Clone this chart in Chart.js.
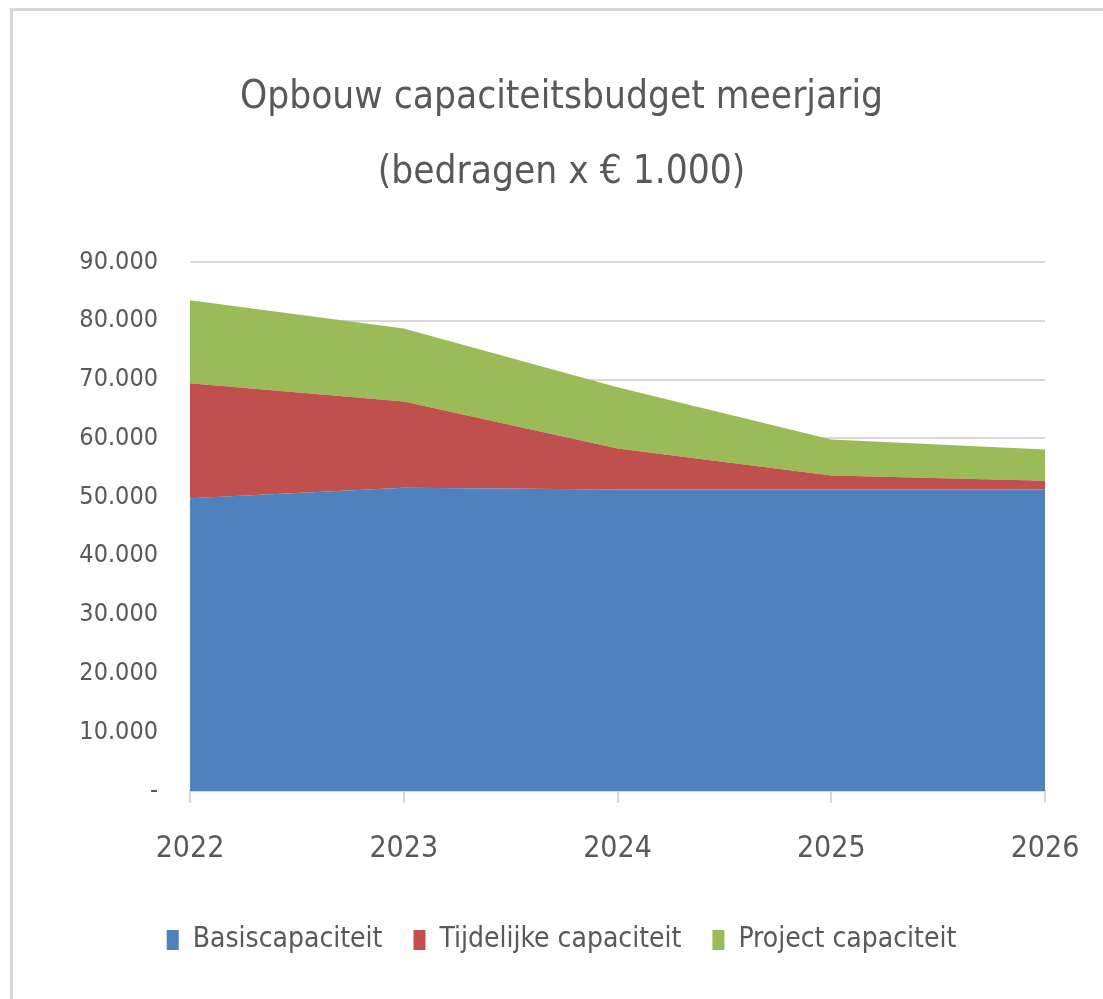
<!DOCTYPE html>
<html>
<head>
<meta charset="utf-8">
<script src="https://cdn.jsdelivr.net/npm/chart.js@4"></script>
<style>
  html, body { margin: 0; padding: 0; background: #fff; }
  #wrap { position: relative; width: 1103px; height: 999px; }
  #frame { position: absolute; left: 10px; top: 8px; right: 0; bottom: 0;
           border-left: 3px solid #d9d9d9; border-top: 3px solid #d9d9d9; }
  canvas { position: absolute; left: 0; top: 0; }
</style>
</head>
<body>
<div id="wrap">
  <div id="frame"></div>
  <canvas id="chart" width="1103" height="999"></canvas>
</div>
<script>
// Gegevens (x € 1.000)
const jaren = ['2022', '2023', '2024', '2025', '2026'];
const basis = [49800, 51600, 51300, 51300, 51300];
const tijdelijk = [19600, 14700, 7000, 2400, 1500];
const project = [14100, 12400, 10400, 6100, 5300];

const fontFam = "'Liberation Sans Narrow', 'DejaVu Sans Condensed', sans-serif";
const tekstKleur = '#595959';
const rasterKleur = '#d9d9d9';

function fmt(v) {
  if (v === 0) return '-';
  return v.toLocaleString('nl-NL');
}

const ctx = document.getElementById('chart').getContext('2d');
new Chart(ctx, {
  type: 'line',
  data: {
    labels: jaren,
    datasets: [
      { label: 'Basiscapaciteit', data: basis, backgroundColor: '#4f81bd', borderColor: '#4f81bd', fill: 'origin' },
      { label: 'Tijdelijke capaciteit', data: tijdelijk, backgroundColor: '#c0504d', borderColor: '#c0504d', fill: '-1' },
      { label: 'Project capaciteit', data: project, backgroundColor: '#9bbb59', borderColor: '#9bbb59', fill: '-1' }
    ]
  },
  options: {
    responsive: false,
    animation: false,
    elements: {
      point: { radius: 0 },
      line: { borderWidth: 0, tension: 0 }
    },
    layout: { padding: { left: 78, right: 58, top: 0, bottom: 35 } },
    scales: {
      x: {
        offset: false,
        afterFit: (s) => { s.paddingLeft = 0; s.paddingRight = 0; },
        grid: { drawOnChartArea: false, drawTicks: true, tickLength: 12, color: rasterKleur, lineWidth: 2 },
        border: { color: rasterKleur, width: 2 },
        ticks: { color: tekstKleur, font: { family: fontFam, size: 30 }, padding: 28, maxRotation: 0 }
      },
      y: {
        stacked: true,
        min: 0,
        max: 90000,
        afterFit: (s) => { s.width = 112; },
        grid: { color: rasterKleur, lineWidth: 2, drawTicks: false },
        border: { display: false },
        ticks: { stepSize: 10000, color: tekstKleur, font: { family: fontFam, size: 25 }, padding: 32, callback: fmt }
      }
    },
    plugins: {
      title: {
        display: true,
        text: ['Opbouw capaciteitsbudget meerjarig', '(bedragen x € 1.000)'],
        color: tekstKleur,
        font: { family: fontFam, size: 38.5, weight: 'normal', lineHeight: 1.95 },
        padding: { top: 60, bottom: 52 }
      },
      legend: {
        position: 'bottom',
        labels: {
          color: tekstKleur,
          font: { family: fontFam, size: 28 },
          boxWidth: 12,
          boxHeight: 20,
          padding: 31
        }
      },
      tooltip: { enabled: false }
    }
  }
});
</script>
</body>
</html>
